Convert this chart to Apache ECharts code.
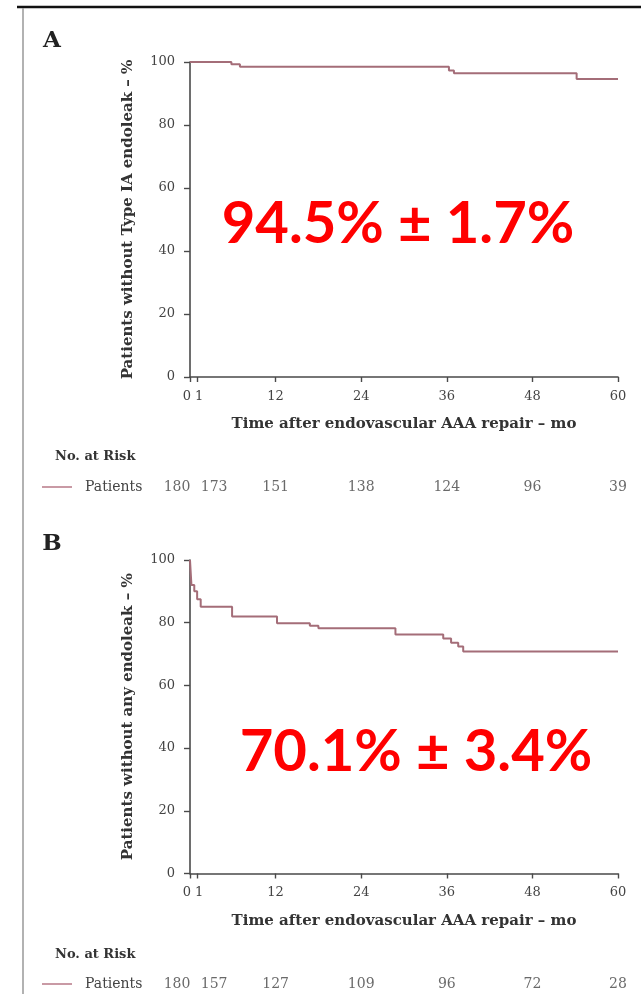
<!DOCTYPE html>
<html>
<head>
<meta charset="utf-8">
<script src="https://cdn.jsdelivr.net/npm/echarts@6/dist/echarts.min.js"></script>
<style>html,body{margin:0;padding:0;background:#fff}#c{width:641px;height:994px}</style>
</head>
<body>
<div id="c"></div>
<script>
// ---- data ----
const xTicks = [0, 1, 12, 24, 36, 48, 60];
const timesA = [0, 5.8, 7.0, 36.3, 37.0, 54.2, 60];
const survA  = [100, 99.3, 98.5, 97.3, 96.4, 94.6, 94.6];
const timesB = [0, 0.2, 0.6, 1.0, 1.5, 5.9, 12.2, 16.8, 18.0, 28.8, 35.5, 36.6, 37.6, 38.3, 60];
const survB  = [100, 92, 90, 87.5, 85.1, 82.0, 79.8, 79.0, 78.2, 76.2, 75.0, 73.6, 72.4, 70.8, 70.8];
const riskTimes = [0, 1, 12, 24, 36, 48, 60];
const riskA = [180, 173, 151, 138, 124, 96, 39];
const riskB = [180, 157, 127, 109, 96, 72, 28];
const yTitleA = 'Patients without Type IA endoleak – %';
const yTitleB = 'Patients without any endoleak – %';
const xTitle = 'Time after endovascular AAA repair – mo';
const annotA = '94.5% ± 1.7%';
const annotB = '70.1% ± 3.4%';

const serif = 'DejaVu Serif';
const axisCol = '#4a4a4a';
const lineCol = '#a46d78';

function pts(t, v) { return t.map((x, i) => [x, v[i]]); }
function riskPts(t, v) { return t.map((x, i) => ({ value: [x, 0, v[i]],
  label: { offset: i === 0 ? [-13, 0] : (i === 1 ? [17, 0] : [0, 0]) } })); }

function plotX(gi) {
  return {
    gridIndex: gi, type: 'value', min: 0, max: 60,
    name: xTitle, nameLocation: 'middle', nameGap: 40,
    nameTextStyle: { fontFamily: serif, fontSize: 15, color: '#333', fontWeight: 'bold' },
    axisLine: { show: true, onZero: false, lineStyle: { color: axisCol, width: 1.6 } },
    axisTick: { show: true, customValues: xTicks, length: 5, lineStyle: { color: axisCol, width: 1.4 } },
    axisLabel: { customValues: xTicks, margin: 13, hideOverlap: false, showMinLabel: true,
      fontFamily: serif, fontSize: 13, color: '#444',
      formatter: v => v === 0 ? '{l|0}' : (v === 1 ? '{r|1}' : String(v)),
      rich: { l: { padding: [0, 6, 0, 0], fontFamily: serif, fontSize: 13, color: '#444' },
              r: { padding: [0, 0, 0, 4], fontFamily: serif, fontSize: 13, color: '#444' } } },
    splitLine: { show: false }
  };
}
function plotY(gi, title) {
  return {
    gridIndex: gi, type: 'value', min: 0, max: 100, interval: 20,
    name: title, nameLocation: 'middle', nameGap: 54,
    nameTextStyle: { fontFamily: serif, fontSize: 15, color: '#333', fontWeight: 'bold' },
    axisLine: { show: true, lineStyle: { color: axisCol, width: 1.6 } },
    axisTick: { show: true, length: 6, lineStyle: { color: axisCol, width: 1.4 } },
    axisLabel: { margin: 15, fontFamily: serif, fontSize: 13, color: '#444' },
    splitLine: { show: false }
  };
}
function hiddenX(gi) { return { gridIndex: gi, type: 'value', min: 0, max: 60, show: false }; }
function hiddenY(gi) { return { gridIndex: gi, type: 'value', min: -1, max: 1, show: false }; }

function riskSeries(gi, data) {
  return {
    type: 'scatter', xAxisIndex: gi, yAxisIndex: gi, symbolSize: 0, silent: true,
    data: riskPts(riskTimes, data),
    label: { show: true, position: 'inside', formatter: p => p.value[2],
      fontFamily: serif, fontSize: 14, color: '#444' }
  };
}

function txt(x, y, s, style) {
  return { type: 'text', x: x, y: y, style: Object.assign({ text: s }, style) };
}

const chart = echarts.init(document.getElementById('c'), null, { renderer: 'canvas' });
chart.setOption({
  animation: false,
  grid: [
    { left: 190, width: 428, top: 62, height: 315 },
    { left: 190, width: 428, top: 560, height: 313.5 },
    { left: 190, width: 428, top: 480, height: 14 },
    { left: 190, width: 428, top: 977, height: 14 }
  ],
  xAxis: [plotX(0), plotX(1), hiddenX(2), hiddenX(3)],
  yAxis: [plotY(0, yTitleA), plotY(1, yTitleB), hiddenY(2), hiddenY(3)],
  series: [
    { type: 'line', xAxisIndex: 0, yAxisIndex: 0, step: 'end', showSymbol: false,
      data: pts(timesA, survA), lineStyle: { color: lineCol, width: 2 } },
    { type: 'line', xAxisIndex: 1, yAxisIndex: 1, step: 'end', showSymbol: false,
      data: pts(timesB, survB), lineStyle: { color: lineCol, width: 2 } },
    riskSeries(2, riskA),
    riskSeries(3, riskB)
  ],
  graphic: [
    { type: 'line', shape: { x1: 17, y1: 7, x2: 641, y2: 7 }, style: { stroke: '#111', lineWidth: 2.5 } },
    { type: 'line', shape: { x1: 23, y1: 8, x2: 23, y2: 994 }, style: { stroke: '#999', lineWidth: 1.5 } },
    txt(52, 41, 'A', { font: 'bold 23px "DejaVu Serif"', fill: '#222', align: 'center', verticalAlign: 'middle' }),
    txt(52, 544, 'B', { font: 'bold 23px "DejaVu Serif"', fill: '#222', align: 'center', verticalAlign: 'middle' }),
    txt(398, 224, annotA, { font: 'bold 58px Lato', fill: '#ff0000', align: 'center', verticalAlign: 'middle' }),
    txt(416, 752, annotB, { font: 'bold 58px Lato', fill: '#ff0000', align: 'center', verticalAlign: 'middle' }),
    txt(55, 457, 'No. at Risk', { font: 'bold 13px "DejaVu Serif"', fill: '#333', verticalAlign: 'middle' }),
    txt(55, 955, 'No. at Risk', { font: 'bold 13px "DejaVu Serif"', fill: '#333', verticalAlign: 'middle' }),
    { type: 'line', shape: { x1: 42, y1: 487, x2: 72, y2: 487 }, style: { stroke: '#c99aa5', lineWidth: 2 } },
    { type: 'line', shape: { x1: 42, y1: 984, x2: 72, y2: 984 }, style: { stroke: '#c99aa5', lineWidth: 2 } },
    txt(85, 487, 'Patients', { font: '14px "DejaVu Serif"', fill: '#444', verticalAlign: 'middle' }),
    txt(85, 984, 'Patients', { font: '14px "DejaVu Serif"', fill: '#444', verticalAlign: 'middle' })
  ]
});
</script>
</body>
</html>
